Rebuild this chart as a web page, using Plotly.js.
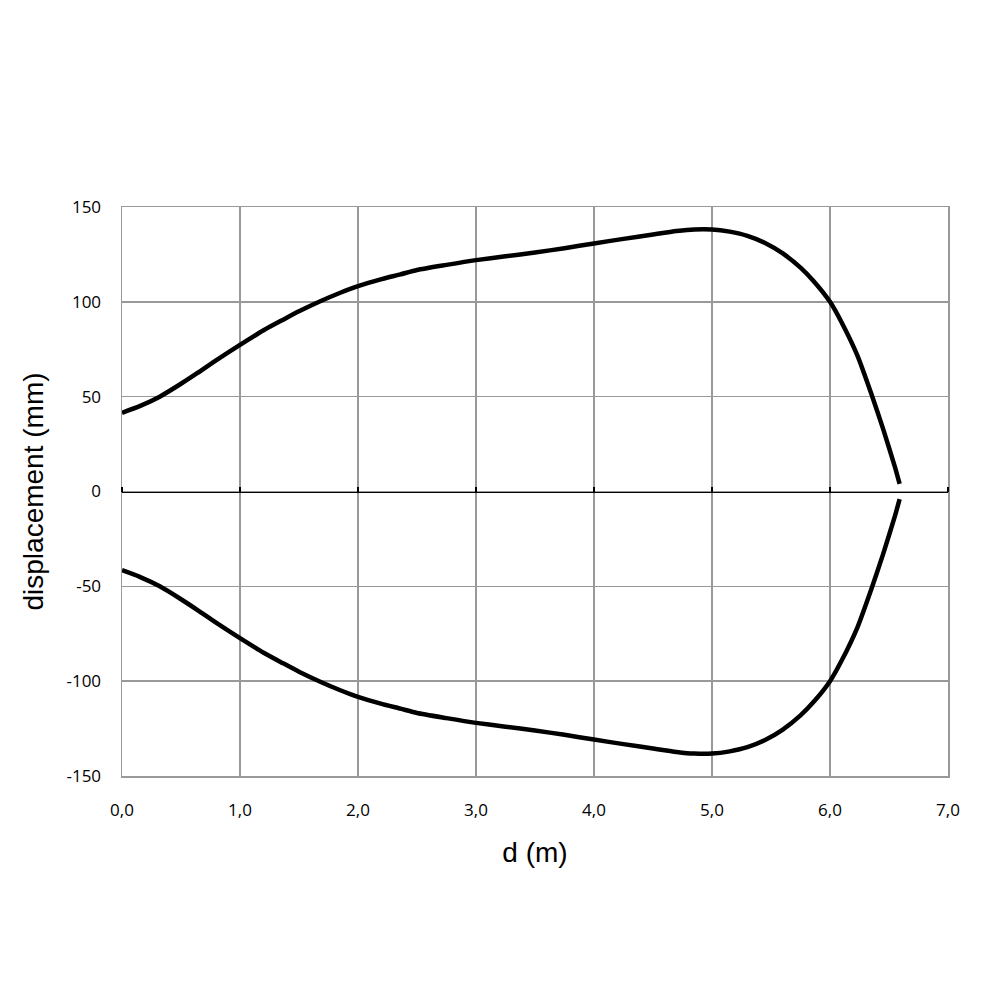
<!DOCTYPE html>
<html>
<head>
<meta charset="utf-8">
<script src="https://cdn.plot.ly/plotly-3.0.1.min.js"></script>
<style>html,body{margin:0;padding:0;background:#fff;}#chart{width:1000px;height:1000px;}</style>
</head>
<body>
<div id="chart"></div>
<script>
// Upper branch (d in m, displacement in mm)
var upperD = [0.0, 0.15, 0.32, 0.5, 0.64, 0.8, 1.0, 1.2, 1.36, 1.5, 1.68, 1.85, 2.0, 2.2, 2.36, 2.5, 2.75, 3.0, 3.25, 3.5, 3.75, 4.0, 4.25, 4.5, 4.7, 4.85, 5.0, 5.15, 5.3, 5.45, 5.6, 5.75, 5.86, 6.0, 6.1, 6.23, 6.35, 6.45, 6.55, 6.59];
var upperV = [41.5, 45, 50, 56.8, 62.5, 69.3, 77.3, 85, 90.4, 95, 100.3, 104.8, 108.3, 112, 114.5, 116.8, 119.5, 122, 124, 126, 128.3, 130.8, 133.2, 135.5, 137.3, 138.2, 138.2, 137, 134.8, 131, 125.5, 118, 111, 100, 89, 72, 51.5, 33, 13, 4];
// Lower branch (mirror of the upper one)
var lowerD = upperD.slice();
var lowerV = upperV.map(function(v){ return -v; });

var xTickVals = [0, 1, 2, 3, 4, 5, 6, 7];
var xTickText = ['0,0', '1,0', '2,0', '3,0', '4,0', '5,0', '6,0', '7,0'];
var yTickVals = [-150, -100, -50, 0, 50, 100, 150];
var yTickText = ['-150', '-100', '-50', '0', '50', '100', '150'];

var lineStyle = {color: '#000', width: 4.5, shape: 'spline', smoothing: 0.6};
var traces = [
  {x: upperD, y: upperV, mode: 'lines', line: lineStyle, hoverinfo: 'skip'},
  {x: lowerD, y: lowerV, mode: 'lines', line: lineStyle, hoverinfo: 'skip'},
  {x: [0, 7], y: [0, 0], xaxis: 'x2', mode: 'lines', line: {color: 'rgba(0,0,0,0)', width: 0}, hoverinfo: 'skip'}
];

var tickFont = {family: '"Open Sans", sans-serif', size: 17, color: '#000'};
var titleFont = {family: '"Liberation Sans", Arial, sans-serif', size: 28, color: '#000'};
var layout = {
  width: 1000, height: 1000,
  margin: {l: 122, r: 52, t: 207, b: 224},
  paper_bgcolor: '#fff', plot_bgcolor: '#fff',
  showlegend: false,
  xaxis: {
    range: [0, 7], tickvals: xTickVals, ticktext: xTickText,
    showgrid: true, gridcolor: '#999', gridwidth: 1.5,
    zeroline: false, showline: true, linecolor: '#999', linewidth: 1.5, mirror: true,
    ticks: 'outside', ticklen: 18, tickcolor: 'rgba(0,0,0,0)',
    tickfont: tickFont,
    title: {text: 'd (m)', font: titleFont, standoff: 22}
  },
  xaxis2: {
    range: [0, 7], overlaying: 'x', anchor: 'free', position: 0.5, side: 'top',
    tickvals: xTickVals, showticklabels: false, showgrid: false, zeroline: false,
    showline: true, linecolor: '#000', linewidth: 1.8,
    ticks: 'outside', ticklen: 5, tickwidth: 1.8, tickcolor: '#000'
  },
  yaxis: {
    range: [-150, 150], tickvals: yTickVals, ticktext: yTickText,
    showgrid: true, gridcolor: '#999', gridwidth: 1.5,
    zeroline: false, showline: true, linecolor: '#999', linewidth: 1.5, mirror: true,
    ticks: 'outside', ticklen: 16, tickcolor: 'rgba(0,0,0,0)',
    tickfont: tickFont,
    title: {text: 'displacement (mm)', font: titleFont, standoff: 14}
  }
};

Plotly.newPlot('chart', traces, layout, {staticPlot: true, displayModeBar: false});
</script>
</body>
</html>
